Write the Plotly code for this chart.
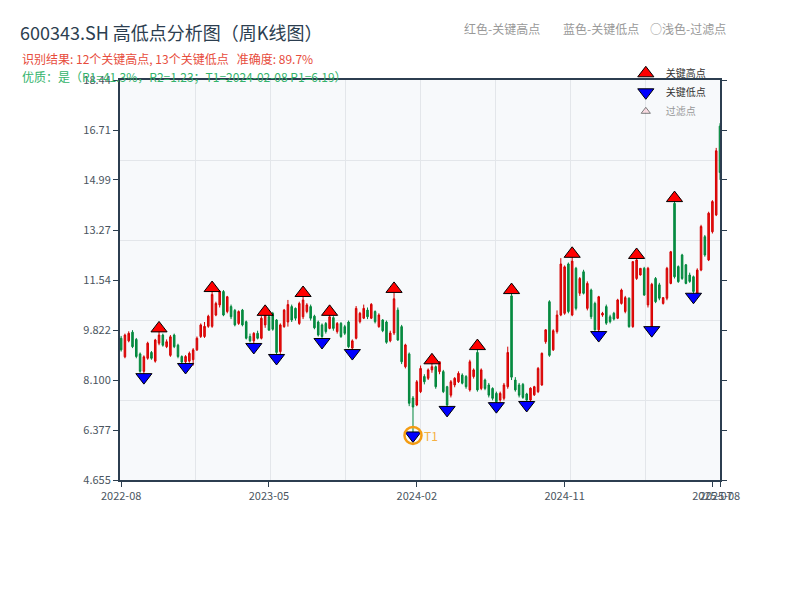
import plotly.graph_objects as go

dates = [
    "2022-07-29", "2022-08-05", "2022-08-12", "2022-08-19", "2022-08-26", "2022-09-02", "2022-09-09", "2022-09-16",
    "2022-09-23", "2022-09-30", "2022-10-14", "2022-10-21", "2022-10-28", "2022-11-04", "2022-11-11", "2022-11-18",
    "2022-11-25", "2022-12-02", "2022-12-09", "2022-12-16", "2022-12-23", "2022-12-30", "2023-01-06", "2023-01-13",
    "2023-01-20", "2023-02-03", "2023-02-10", "2023-02-17", "2023-02-24", "2023-03-03", "2023-03-10", "2023-03-17",
    "2023-03-24", "2023-03-31", "2023-04-07", "2023-04-14", "2023-04-21", "2023-04-28", "2023-05-05", "2023-05-12",
    "2023-05-19", "2023-05-26", "2023-06-02", "2023-06-09", "2023-06-16", "2023-06-21", "2023-06-30", "2023-07-07",
    "2023-07-14", "2023-07-21", "2023-07-28", "2023-08-04", "2023-08-11", "2023-08-18", "2023-08-25", "2023-09-01",
    "2023-09-08", "2023-09-15", "2023-09-22", "2023-09-28", "2023-10-13", "2023-10-20", "2023-10-27", "2023-11-03",
    "2023-11-10", "2023-11-17", "2023-11-24", "2023-12-01", "2023-12-08", "2023-12-15", "2023-12-22", "2023-12-29",
    "2024-01-05", "2024-01-12", "2024-01-19", "2024-01-26", "2024-02-02", "2024-02-08", "2024-02-23", "2024-03-01",
    "2024-03-08", "2024-03-15", "2024-03-22", "2024-03-29", "2024-04-03", "2024-04-12", "2024-04-19", "2024-04-26",
    "2024-04-30", "2024-05-10", "2024-05-17", "2024-05-24", "2024-05-31", "2024-06-07", "2024-06-14", "2024-06-21",
    "2024-06-28", "2024-07-05", "2024-07-12", "2024-07-19", "2024-07-26", "2024-08-02", "2024-08-09", "2024-08-16",
    "2024-08-23", "2024-08-30", "2024-09-06", "2024-09-13", "2024-09-20", "2024-09-27", "2024-09-30", "2024-10-11",
    "2024-10-18", "2024-10-25", "2024-11-01", "2024-11-08", "2024-11-15", "2024-11-22", "2024-11-29", "2024-12-06",
    "2024-12-13", "2024-12-20", "2024-12-27", "2025-01-03", "2025-01-10", "2025-01-17", "2025-01-24", "2025-01-27",
    "2025-02-07", "2025-02-14", "2025-02-21", "2025-02-28", "2025-03-07", "2025-03-14", "2025-03-21", "2025-03-28",
    "2025-04-03", "2025-04-11", "2025-04-18", "2025-04-25", "2025-04-30", "2025-05-09", "2025-05-16", "2025-05-23",
    "2025-05-30", "2025-06-06", "2025-06-13", "2025-06-20", "2025-06-27", "2025-07-04", "2025-07-11", "2025-07-18",
    "2025-07-25", "2025-08-01", "2025-08-08", "2025-08-15", "2025-08-22", "2025-08-29", "2025-09-05",
]

open_ = [
    9.54, 8.90, 9.45, 9.75, 9.50, 9.00, 8.40, 8.85, 9.05, 8.75,
    9.37, 9.65, 9.25, 8.95, 9.65, 9.30, 8.91, 8.73, 8.75, 8.80,
    9.14, 9.60, 9.60, 9.95, 9.95, 10.34, 10.69, 11.15, 10.46, 10.63,
    10.50, 10.05, 10.51, 10.11, 9.60, 9.45, 9.71, 9.54, 10.00, 10.28,
    10.40, 10.17, 9.08, 9.94, 10.10, 10.63, 10.57, 10.05, 10.28, 10.46,
    10.63, 10.30, 10.10, 10.00, 10.05, 9.88, 10.25, 9.77, 10.05, 9.94,
    10.10, 9.20, 9.54, 10.11, 10.23, 10.51, 10.23, 10.46, 9.94, 10.17,
    10.10, 9.45, 9.72, 10.51, 9.94, 8.56, 9.00, 7.48, 7.24, 7.70,
    8.22, 8.16, 8.45, 8.56, 8.39, 8.39, 7.87, 7.58, 7.93, 8.04,
    8.27, 8.22, 7.76, 8.22, 9.05, 7.81, 8.10, 7.93, 7.81, 7.64,
    7.41, 7.47, 7.87, 11.00, 8.10, 7.93, 7.95, 7.62, 7.41, 7.59,
    7.70, 7.93, 9.42, 10.80, 9.14, 9.77, 10.34, 10.40, 12.10, 10.34,
    11.95, 11.09, 11.83, 10.57, 11.20, 10.74, 9.83, 10.34, 10.63, 10.28,
    10.40, 10.23, 10.74, 10.46, 10.92, 9.94, 11.60, 11.72, 11.95, 10.69,
    9.88, 11.60, 11.38, 10.74, 10.92, 11.43, 14.19, 12.01, 12.41, 12.07,
    11.72, 11.66, 10.97, 11.89, 13.04, 12.24, 13.21, 13.79, 16.85,
]
high = [
    9.62, 9.70, 9.78, 9.82, 9.55, 9.05, 8.95, 9.42, 9.10, 9.52,
    9.88, 9.70, 9.50, 9.65, 9.70, 9.35, 8.95, 8.96, 9.08, 9.20,
    9.60, 10.05, 10.10, 10.35, 11.27, 10.80, 11.20, 11.20, 11.00, 10.70,
    10.55, 10.50, 10.55, 10.15, 9.70, 9.75, 9.80, 10.30, 10.45, 10.35,
    10.45, 10.20, 10.05, 10.55, 10.86, 10.70, 10.60, 10.80, 11.10, 10.75,
    10.70, 10.35, 10.15, 10.05, 10.10, 10.45, 10.30, 10.10, 10.10, 10.00,
    10.15, 9.50, 10.65, 10.45, 10.70, 10.60, 10.75, 10.50, 10.40, 10.20,
    10.15, 9.80, 11.24, 10.60, 10.00, 9.35, 9.05, 7.55, 8.10, 8.60,
    8.30, 8.50, 8.78, 8.60, 8.75, 8.45, 7.90, 8.10, 8.20, 8.40,
    8.33, 8.27, 8.80, 8.50, 9.27, 8.50, 8.15, 8.00, 7.85, 7.70,
    7.70, 8.00, 9.25, 11.20, 8.20, 8.00, 8.00, 7.66, 7.85, 7.90,
    8.55, 9.05, 9.85, 10.85, 9.85, 10.50, 12.30, 12.05, 12.15, 12.45,
    12.00, 11.65, 11.90, 11.50, 11.25, 10.80, 11.00, 10.45, 10.70, 10.35,
    10.45, 10.90, 11.25, 11.00, 10.95, 12.20, 12.41, 11.95, 12.00, 12.00,
    11.45, 11.65, 11.45, 10.96, 12.00, 12.55, 14.37, 12.05, 12.45, 12.10,
    11.80, 11.70, 11.95, 13.45, 13.10, 13.90, 14.30, 16.10, 16.95,
]
low = [
    9.08, 8.85, 9.40, 9.20, 8.85, 8.35, 8.20, 8.80, 8.80, 8.70,
    9.30, 9.25, 9.20, 8.90, 9.20, 8.85, 8.65, 8.55, 8.70, 8.60,
    9.10, 9.55, 9.55, 9.90, 9.90, 10.30, 10.60, 10.30, 10.40, 10.20,
    9.95, 10.00, 9.95, 9.50, 9.40, 9.24, 9.50, 9.50, 9.90, 9.80,
    9.80, 8.86, 9.00, 9.90, 9.94, 10.10, 10.15, 10.00, 10.20, 10.40,
    10.15, 9.85, 9.60, 9.41, 9.70, 9.85, 9.80, 9.70, 9.55, 9.65,
    9.20, 9.03, 9.50, 10.05, 10.20, 10.20, 10.20, 10.05, 9.90, 9.75,
    9.35, 9.40, 9.65, 9.45, 8.65, 8.50, 7.20, 6.19, 7.20, 7.65,
    7.95, 8.10, 8.35, 7.80, 8.30, 7.65, 7.07, 7.50, 7.85, 8.00,
    7.95, 7.80, 7.70, 8.15, 7.70, 7.75, 7.75, 7.50, 7.40, 7.20,
    7.35, 7.40, 7.80, 8.10, 7.70, 7.50, 7.45, 7.24, 7.38, 7.55,
    7.65, 7.90, 9.35, 8.90, 9.10, 9.70, 10.30, 10.35, 10.40, 10.30,
    10.50, 11.00, 11.05, 10.50, 10.20, 9.80, 9.65, 10.28, 10.00, 10.05,
    10.15, 10.20, 10.70, 10.40, 9.90, 9.90, 11.55, 11.70, 11.00, 10.60,
    9.82, 10.75, 10.85, 10.70, 10.85, 11.40, 11.60, 11.45, 11.55, 11.40,
    11.45, 10.97, 10.90, 11.85, 12.35, 12.20, 13.15, 13.75, 15.00,
]
close = [
    9.14, 9.65, 9.71, 9.25, 8.91, 8.40, 8.90, 9.37, 8.85, 9.48,
    9.65, 9.30, 9.42, 9.59, 9.25, 8.91, 8.72, 8.91, 9.02, 9.14,
    9.54, 10.00, 9.95, 10.30, 11.05, 10.74, 11.15, 10.34, 10.97, 10.28,
    10.00, 10.46, 10.00, 9.54, 9.45, 9.71, 9.54, 10.23, 10.40, 9.82,
    9.85, 9.05, 10.00, 10.51, 10.70, 10.17, 10.23, 10.74, 10.86, 10.69,
    10.23, 9.90, 9.65, 9.60, 9.77, 10.28, 9.88, 10.05, 9.60, 9.71,
    9.25, 9.45, 10.57, 10.40, 10.57, 10.28, 10.71, 10.11, 10.34, 9.80,
    9.40, 9.72, 10.90, 9.48, 8.73, 9.31, 7.30, 7.17, 8.04, 8.50,
    8.04, 8.45, 8.56, 7.87, 8.73, 7.70, 7.24, 8.04, 8.16, 8.33,
    7.99, 7.87, 8.73, 8.45, 7.76, 8.45, 7.81, 7.58, 7.47, 7.35,
    7.64, 7.93, 9.05, 8.20, 7.76, 7.58, 7.50, 7.41, 7.82, 7.87,
    8.50, 9.02, 9.83, 8.95, 9.80, 10.34, 12.10, 12.00, 10.46, 12.20,
    10.57, 11.60, 11.09, 11.43, 10.28, 9.83, 10.97, 10.40, 10.06, 10.11,
    10.20, 10.86, 11.20, 10.94, 9.94, 12.18, 12.24, 11.95, 11.03, 11.95,
    11.40, 10.80, 10.92, 10.94, 11.95, 12.52, 11.66, 11.49, 11.60, 11.43,
    11.50, 11.15, 11.89, 13.39, 12.41, 13.85, 14.25, 16.00, 15.25,
]

key_high_idx = [10, 24, 38, 48, 55, 72, 82, 94, 103, 119, 136, 146]
key_low_idx = [6, 17, 35, 41, 53, 61, 77, 86, 99, 107, 126, 140, 151]
filtered_idx = [3, 13, 22, 28, 44, 57, 64, 66, 84, 89, 92, 112, 115, 131, 144]
t1_idx = 77

y_tick_vals = [4.655, 6.378, 8.101, 9.824, 11.547, 13.270, 14.994, 16.717, 18.440]
y_tick_text = ["4.655", "6.377", "8.100", "9.822", "11.54", "13.27", "14.99", "16.71", "18.44"]
y_grid_vals = [7.412, 10.169, 12.926, 15.683]
x_tick_idx = [0, 39, 78, 117, 156, 158]
x_tick_text = ["2022-08", "2023-05", "2024-02", "2024-11", "2025-07", "2025-08"]

FONT = "Noto Sans CJK SC, Noto Sans, sans-serif"
AXIS = "#2c3e50"
GRID = "#e3e6ea"

fig = go.Figure()
fig.add_trace(go.Candlestick(
    x=dates, open=open_, high=high, low=low, close=close,
    increasing=dict(line=dict(color="#d40000", width=1), fillcolor="#ee1111"),
    decreasing=dict(line=dict(color="#00873c", width=1), fillcolor="#0a8f42"),
    whiskerwidth=0, showlegend=False, name="K线",
))
fig.add_trace(go.Scatter(
    x=[dates[i] for i in key_high_idx], y=[high[i] for i in key_high_idx],
    mode="markers", name="关键高点",
    marker=dict(symbol="triangle-up", size=14, color="#ff0000", line=dict(color="#000000", width=1)),
))
fig.add_trace(go.Scatter(
    x=[dates[i] for i in key_low_idx], y=[low[i] for i in key_low_idx],
    mode="markers", name="关键低点",
    marker=dict(symbol="triangle-down", size=14, color="#0000ff", line=dict(color="#000000", width=1)),
))
fig.add_trace(go.Scatter(
    x=[dates[i] for i in filtered_idx], y=[high[i] for i in filtered_idx],
    mode="markers", name="过滤点", visible="legendonly",
    marker=dict(symbol="triangle-up", size=8, color="#ffc0cb", line=dict(color="#000000", width=1)),
))
fig.add_trace(go.Scatter(
    x=[dates[t1_idx]], y=[low[t1_idx]], mode="markers", showlegend=False, hoverinfo="skip",
    marker=dict(symbol="circle-open", size=17, color="#f39c12", line=dict(color="#f39c12", width=2.5)),
))
# helper trace so the overlaid grid axis exists
fig.add_trace(go.Scatter(x=[None], y=[None], xaxis="x2", yaxis="y", showlegend=False, hoverinfo="skip"))

fig.update_layout(
    width=800, height=600,
    margin=dict(l=112, r=88, t=72, b=128),
    paper_bgcolor="white", plot_bgcolor="#f7f9fb",
    boxgap=0.42,
    font=dict(family=FONT, size=11, color="#4a5560"),
    title=dict(text="600343.SH 高低点分析图（周K线图）", x=0.015, xanchor="left",
               y=0.958, yanchor="middle", font=dict(size=18, color="#2c3e50", family=FONT)),
    xaxis=dict(
        type="category", range=[-0.3, 158], rangeslider=dict(visible=False),
        tickmode="array", tickvals=[dates[i] for i in x_tick_idx], ticktext=x_tick_text, tickangle=0,
        showgrid=False, showline=True, linecolor=AXIS, linewidth=2, mirror=True,
        ticks="outside", ticklen=5, tickcolor=AXIS, tickfont=dict(size=11, color="#4a5560"),
    ),
    xaxis2=dict(
        overlaying="x", anchor="y", range=[0, 8], dtick=1, tick0=0, showgrid=True, gridcolor=GRID,
        gridwidth=1, showticklabels=False, ticks="", showline=False, zeroline=False, fixedrange=True,
    ),
    yaxis=dict(
        range=[4.655, 18.44], tickmode="array", tickvals=y_tick_vals, ticktext=y_tick_text,
        showgrid=False, zeroline=False, showline=True, linecolor=AXIS, linewidth=2, mirror="ticks",
        ticks="outside", ticklen=5, tickcolor=AXIS, tickfont=dict(size=11, color="#4a5560"),
        minor=dict(tickmode="array", tickvals=y_grid_vals, showgrid=True, gridcolor=GRID, gridwidth=1, ticks=""),
    ),
    legend=dict(x=0.843, y=1.053, xanchor="left", yanchor="top", bgcolor="rgba(0,0,0,0)",
                font=dict(size=10, color="#333333", family=FONT), tracegroupgap=0),
    showlegend=True,
)

fig.add_annotation(xref="paper", yref="paper", x=-0.1667, y=1.055, xanchor="left", yanchor="middle",
                   text="识别结果: 12个关键高点, 13个关键低点   准确度: 89.7%", showarrow=False,
                   font=dict(size=12, color="#e74c3c", family=FONT))
fig.add_annotation(xref="paper", yref="paper", x=-0.1667, y=1.01, xanchor="left", yanchor="middle",
                   text="优质：是（R1=41.3%，R2=1.23；T1=2024-02-08 P1=6.19）", showarrow=False,
                   font=dict(size=12, color="#33b36b", family=FONT))
for tx, xp in [("红色-关键高点", 0.57), ("蓝色-关键低点", 0.735), ("○浅色-过滤点", 0.88)]:
    fig.add_annotation(xref="paper", yref="paper", x=xp, y=1.13, xanchor="left", yanchor="middle",
                       text=tx, showarrow=False, font=dict(size=12, color="#999999", family=FONT))
fig.add_annotation(x=dates[t1_idx], y=low[t1_idx], text="T1", showarrow=False, xanchor="left",
                   xshift=9, font=dict(size=12, color="#f5b041", family=FONT))

fig.write_html("out.html")
